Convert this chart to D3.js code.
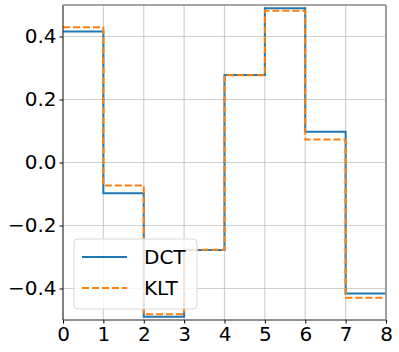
<!DOCTYPE html>
<html>
<head>
<meta charset="utf-8">
<script src="https://cdn.jsdelivr.net/npm/d3@7"></script>
<style>
  body { margin: 0; background: #fff; }
  svg { display: block; font-family: "DejaVu Sans", sans-serif; }
</style>
</head>
<body>
<div id="chart"></div>
<script>
// Werte (ein Wert pro Stufe, x = 0..7)
const positions = [0, 1, 2, 3, 4, 5, 6, 7];
const dctValues = [0.416, -0.098, -0.490, -0.278, 0.278, 0.490, 0.098, -0.416];
const kltValues = [0.429, -0.073, -0.482, -0.277, 0.277, 0.482, 0.073, -0.429];
const seriesNames = ["DCT", "KLT"];
const xTicks = [0, 1, 2, 3, 4, 5, 6, 7, 8];
const yTicks = [-0.4, -0.2, 0.0, 0.2, 0.4];

const width = 399;
const height = 352;
const margin = { top: 5, right: 13, bottom: 32, left: 63 };

const svg = d3.select("#chart")
    .append("svg")
    .attr("width", width)
    .attr("height", height);

const x = d3.scaleLinear()
    .domain([0, 8])
    .range([margin.left, width - margin.right]);

const y = d3.scaleLinear()
    .domain([-0.5, 0.5])
    .range([height - margin.bottom, margin.top]);

// Gitter
const grid = svg.append("g");
grid.selectAll(".gx")
    .data(xTicks)
    .enter()
    .append("line")
    .attr("x1", d => x(d))
    .attr("x2", d => x(d))
    .attr("y1", y(-0.5))
    .attr("y2", y(0.5))
    .attr("stroke", "#b0b0b0")
    .attr("stroke-opacity", 0.6)
    .attr("stroke-width", 1.2);
grid.selectAll(".gy")
    .data(yTicks)
    .enter()
    .append("line")
    .attr("x1", x(0))
    .attr("x2", x(8))
    .attr("y1", d => y(d))
    .attr("y2", d => y(d))
    .attr("stroke", "#b0b0b0")
    .attr("stroke-opacity", 0.6)
    .attr("stroke-width", 1.2);

// Stufen (where = "post"), letzter Wert bis x = 8 verlängert
function stepPoints(values) {
    const pts = positions.map((p, i) => [p, values[i]]);
    pts.push([8, values[values.length - 1]]);
    return pts;
}

const line = d3.line()
    .x(d => x(d[0]))
    .y(d => y(d[1]))
    .curve(d3.curveStepAfter);

svg.append("path")
    .datum(stepPoints(dctValues))
    .attr("d", line)
    .attr("fill", "none")
    .attr("stroke", "#1f77b4")
    .attr("stroke-width", 2);

svg.append("path")
    .datum(stepPoints(kltValues))
    .attr("d", line)
    .attr("fill", "none")
    .attr("stroke", "#ff7f0e")
    .attr("stroke-width", 2)
    .attr("stroke-dasharray", "7,3");

// Achsen
const xAxis = svg.append("g")
    .attr("transform", `translate(0, ${y(-0.5)})`)
    .call(d3.axisBottom(x).tickValues(xTicks).tickFormat(d3.format("d")).tickSize(3.5).tickPadding(3));

const yAxis = svg.append("g")
    .attr("transform", `translate(${x(0)}, 0)`)
    .call(d3.axisLeft(y).tickValues(yTicks)
        .tickFormat(d => d3.format(".1f")(d).replace("-", "\u2212"))
        .tickSize(3.5).tickPadding(3));

[xAxis, yAxis].forEach(a => {
    a.select(".domain").remove();
    a.selectAll("text")
        .style("font-size", "20px")
        .style("font-family", "DejaVu Sans, sans-serif")
        .attr("fill", "#000");
    a.selectAll("line").attr("stroke", "#000");
});

// Rahmen
svg.append("line")
    .attr("x1", x(0)).attr("x2", x(0)).attr("y1", y(-0.5)).attr("y2", y(0.5))
    .attr("stroke", "#222").attr("stroke-width", 1);
svg.append("line")
    .attr("x1", x(0)).attr("x2", x(8)).attr("y1", y(-0.5)).attr("y2", y(-0.5))
    .attr("stroke", "#222").attr("stroke-width", 1);
svg.append("line")
    .attr("x1", x(0)).attr("x2", x(8)).attr("y1", y(0.5)).attr("y2", y(0.5))
    .attr("stroke", "#888").attr("stroke-width", 1.5);
svg.append("line")
    .attr("x1", x(8)).attr("x2", x(8)).attr("y1", y(-0.5)).attr("y2", y(0.5))
    .attr("stroke", "#888").attr("stroke-width", 1.5);

// Legende
const legend = svg.append("g")
    .attr("transform", "translate(74, 239)");

legend.append("rect")
    .attr("width", 123)
    .attr("height", 70)
    .attr("rx", 4)
    .attr("fill", "white")
    .attr("fill-opacity", 0.8)
    .attr("stroke", "#d8d8d8");

seriesNames.forEach((name, i) => {
    const item = legend.append("g")
        .attr("transform", `translate(0, ${18 + i * 31})`);

    item.append("line")
        .attr("x1", 8)
        .attr("x2", 53)
        .attr("stroke", i === 0 ? "#1f77b4" : "#ff7f0e")
        .attr("stroke-width", 2)
        .attr("stroke-dasharray", i === 0 ? null : "7,3");

    item.append("text")
        .attr("x", 70)
        .attr("y", 7)
        .style("font-size", "20px")
        .text(name);
});
</script>
</body>
</html>
